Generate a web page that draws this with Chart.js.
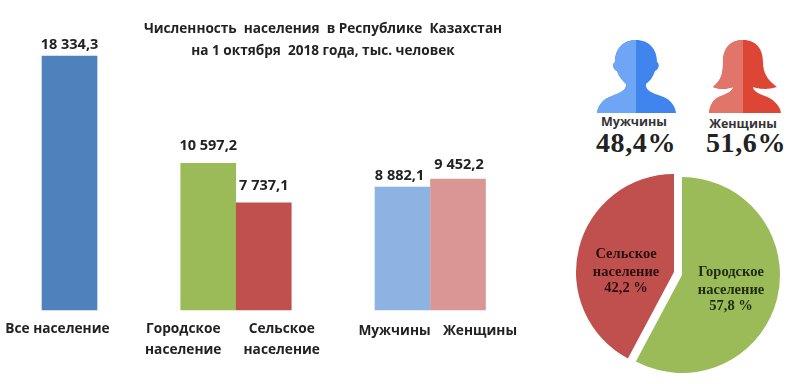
<!DOCTYPE html>
<html>
<head>
<meta charset="utf-8">
<script src="https://cdn.jsdelivr.net/npm/chart.js@4"></script>
<style>
  html, body { margin: 0; padding: 0; background: #fff; }
  #page { position: relative; width: 800px; height: 384px; overflow: hidden; }
  #barBox { position: absolute; left: 0; top: 0; width: 570px; height: 384px; }
  #pieBox { position: absolute; left: 575px; top: 166px; width: 214px; height: 218px; }
  .txt { position: absolute; white-space: pre; text-align: center; color: #222; transform: translateX(-50%); }
  #title { left: 323px; top: 17px; font: 700 13.6px/22px "Open Sans", sans-serif; }
  .cap { top: 113px; font: 700 12.5px/18px "Open Sans", sans-serif; color: #333; }
  .pct { top: 127px; font: bold 28px/32px "Liberation Serif", serif; letter-spacing: 0.6px; color: #222; }
  svg { position: absolute; left: 590px; top: 35px; }
</style>
</head>
<body>
<div id="page">
  <div id="barBox"><canvas id="bars"></canvas></div>
  <div id="pieBox"><canvas id="pie"></canvas></div>

  <div id="title" class="txt">Численность  населения  в Республике  Казахстан
на 1 октября  2018 года, тыс. человек</div>

  <svg width="200" height="85" viewBox="590 35 200 85">
    <defs>
      <clipPath id="leftM"><rect x="590" y="35" width="46" height="85"/></clipPath>
      <clipPath id="leftF"><rect x="700" y="35" width="43" height="85"/></clipPath>
      <path id="man" d="M636 40 C623 40 615 49 615 62 C612 63 613 70 617 71 C619 77 623 81 626 84 C627 90 620 93 612 96 C603 99 598 105 597 113 L676 113 C675 105 670 99 661 96 C652 93 645 90 646 84 C650 81 653 77 655 71 C659 70 660 63 657 62 C657 49 649 40 636 40 Z"/>
      <path id="woman" d="M743 40 C729 40 723 50 723 62 C723 72 722 80 713 87 C720 90 728 89 733 87 C733 91 727 94 721 96 C713 99 710 105 709 113 L781 113 C780 105 773 99 765 96 C759 94 753 91 753 87 C758 89 768 90 777 87 C767 80 763 72 763 62 C763 50 757 40 743 40 Z"/>
    </defs>
    <use href="#man" fill="#4085ee"/>
    <use href="#man" fill="#6ea5f5" clip-path="url(#leftM)"/>
    <use href="#woman" fill="#dd4535"/>
    <use href="#woman" fill="#e2756a" clip-path="url(#leftF)"/>
  </svg>

  <div class="txt cap" style="left:634px">Мужчины</div>
  <div class="txt cap" style="left:743px;top:115px">Женщины</div>
  <div class="txt pct" style="left:636px">48,4%</div>
  <div class="txt pct" style="left:746px">51,6%</div>
</div>

<script>
// данные
const categories = ["Все население", "Городское население", "Сельское население", "Мужчины", "Женщины"];
const values = [18334.3, 10597.2, 7737.1, 8882.1, 9452.2];
const valueLabels = ["18 334,3", "10 597,2", "7 737,1", "8 882,1", "9 452,2"];
const barColors = ["#4f81bd", "#9bbb59", "#c0504d", "#8db3e2", "#d99694"];

const pieLabels = ["Городское население", "Сельское население"];
const pieValues = [57.8, 42.2];
const pieTexts = ["57,8 %", "42,2 %"];
const pieColors = ["#9bbb59", "#c0504d"];

// ось X: сетка из 17 позиций, столбцы стоят не подряд
const barSlots = [1, 6, 8, 13, 15];
const slotCount = 17;
const slotLabels = [];
const slotValues = [];
const slotColors = [];
for (let i = 0; i < slotCount; i++) {
  const k = barSlots.indexOf(i);
  slotLabels.push(k >= 0 ? categories[k] : "");
  slotValues.push(k >= 0 ? values[k] : null);
  slotColors.push(k >= 0 ? barColors[k] : "#fff");
}

// подписи смещены относительно столбцов, как на картинке
const valueShift = [[0, -11], [0, -17], [0, -17], [-3, -11], [1, -14]];
const nameShift = [[-12, 329], [-25, 329], [18, 329], [-8, 331], [22, 331]];

const barText = {
  id: "barText",
  afterDraw(chart) {
    const ctx = chart.ctx;
    const bars = chart.getDatasetMeta(0).data;
    ctx.save();
    ctx.textAlign = "center";
    ctx.textBaseline = "middle";
    ctx.fillStyle = "#222";
    barSlots.forEach((slot, i) => {
      const bar = bars[slot];
      ctx.font = '700 14.5px "Open Sans", sans-serif';
      ctx.fillText(valueLabels[i], bar.x + valueShift[i][0], bar.y + valueShift[i][1]);
      ctx.font = '700 13.7px "Open Sans", sans-serif';
      const x = bar.x + nameShift[i][0];
      const y = nameShift[i][1];
      const words = categories[i].split(" ");
      if (i === 0 || words.length === 1) {
        ctx.fillText(categories[i], x, y);
      } else {
        ctx.fillText(words[0], x, y);
        ctx.fillText(words[1], x, y + 21);
      }
    });
    ctx.restore();
  },
};

new Chart(document.getElementById("bars"), {
  type: "bar",
  data: {
    labels: slotLabels,
    datasets: [{ data: slotValues, backgroundColor: slotColors, barThickness: 55, clip: false }],
  },
  options: {
    responsive: true,
    maintainAspectRatio: false,
    animation: false,
    layout: { padding: { left: 41.75, right: 84.25, top: 33, bottom: 74 } },
    plugins: { legend: { display: false }, title: { display: false }, tooltip: { enabled: false } },
    scales: {
      x: { display: false, offset: false, grid: { display: false } },
      y: { display: false, min: 0, max: 20000, grid: { display: false } },
    },
  },
  plugins: [barText],
});

// offset в Chart.js увеличивает и радиус, поэтому красный сектор сдвигаем сами
const pieShift = [[49, -3], [-48, -18]];
const piePull = [[0, 0], [-8, -3]];
const pieText = {
  id: "pieText",
  afterDatasetsUpdate(chart) {
    chart.getDatasetMeta(0).data.forEach((arc, i) => {
      arc.x += piePull[i][0];
      arc.y += piePull[i][1];
    });
  },
  afterDraw(chart) {
    const ctx = chart.ctx;
    const arcs = chart.getDatasetMeta(0).data;
    ctx.save();
    ctx.textAlign = "center";
    ctx.textBaseline = "middle";
    ctx.font = 'bold 14.5px "Liberation Serif", serif';
    arcs.forEach((arc, i) => {
      const x = arc.x + pieShift[i][0];
      const y = arc.y + pieShift[i][1];
      const words = pieLabels[i].split(" ");
      ctx.fillStyle = i === 0 ? "#1d2a10" : "#2a0f0e";
      ctx.fillText(words[0], x, y);
      ctx.fillText(words[1], x, y + 18);
      ctx.fillText(pieTexts[i], x, y + 34);
    });
    ctx.restore();
  },
};

new Chart(document.getElementById("pie"), {
  type: "pie",
  data: {
    labels: pieLabels,
    datasets: [{ data: pieValues, backgroundColor: pieColors, borderWidth: 0, radius: 98 }],
  },
  options: {
    responsive: true,
    maintainAspectRatio: false,
    animation: false,
    plugins: { legend: { display: false }, tooltip: { enabled: false } },
  },
  plugins: [pieText],
});
</script>
</body>
</html>
